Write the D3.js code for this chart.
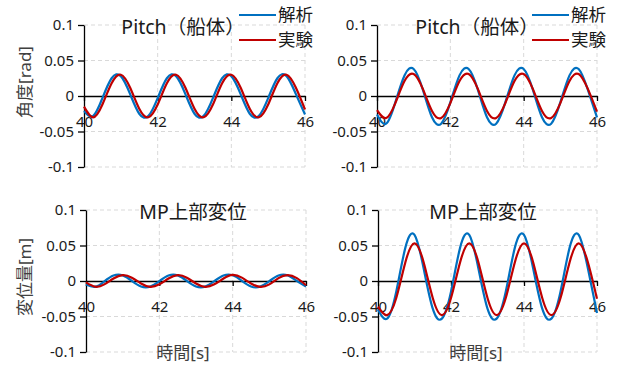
<!DOCTYPE html>
<html>
<head>
<meta charset="utf-8">
<script src="https://cdn.jsdelivr.net/npm/d3@7"></script>
<style>
  html, body { margin: 0; padding: 0; background: #fff; }
  svg { display: block; }
  text { font-family: "Noto Sans", "Noto Sans CJK JP", sans-serif; }
</style>
</head>
<body>
<svg id="chart" width="617" height="365"></svg>
<script>
// ---------- data ----------
const times = [40, 40.25, 40.5, 40.75, 41, 41.25, 41.5, 41.75, 42, 42.25, 42.5, 42.75,
               43, 43.25, 43.5, 43.75, 44, 44.25, 44.5, 44.75, 45, 45.25, 45.5, 45.75, 46];

const xTicks = [40, 42, 44, 46];
const xTickLabels = ["40", "42", "44", "46"];
const yTicks = [0.1, 0.05, 0, -0.05, -0.1];
const yTickLabels = ["0.1", "0.05", "0", "-0.05", "-0.1"];

const seriesNames = ["解析", "実験"];
const titles = ["Pitch（船体）", "Pitch（船体）", "MP上部変位", "MP上部変位"];
const yTitles = ["角度[rad]", "", "変位量[m]", ""];
const xTitle = "時間[s]";

// panel 1: Pitch, case 1
const pitch1Analysis = [-0.021, -0.028, -0.003, 0.025, 0.028, 0.003, -0.025, -0.028, -0.003, 0.025, 0.028, 0.003,
                        -0.025, -0.028, -0.003, 0.025, 0.028, 0.003, -0.025, -0.028, -0.003, 0.025, 0.028, 0.003, -0.026];
const pitch1Experiment = [-0.015, -0.030, -0.012, 0.018, 0.030, 0.012, -0.018, -0.030, -0.012, 0.018, 0.030, 0.012,
                          -0.018, -0.030, -0.012, 0.018, 0.030, 0.012, -0.018, -0.030, -0.012, 0.018, 0.030, 0.012, -0.019];
// panel 2: Pitch, case 2
const pitch2Analysis = [-0.026, -0.039, -0.009, 0.029, 0.038, 0.009, -0.030, -0.039, -0.009, 0.029, 0.038, 0.009,
                        -0.030, -0.039, -0.009, 0.029, 0.038, 0.009, -0.030, -0.039, -0.009, 0.029, 0.038, 0.009, -0.030];
const pitch2Experiment = [-0.020, -0.031, -0.010, 0.021, 0.031, 0.010, -0.021, -0.031, -0.010, 0.021, 0.031, 0.010,
                          -0.021, -0.031, -0.010, 0.021, 0.031, 0.010, -0.021, -0.031, -0.010, 0.021, 0.031, 0.010, -0.022];
// panel 3: MP displacement, case 1
const mp1Analysis = [-0.005, -0.0082, -0.0005, 0.0077, 0.0079, 0.0002, -0.0077, -0.0079, -0.0002, 0.0077, 0.0079, 0.0002,
                     -0.0077, -0.0079, -0.0002, 0.0077, 0.0080, 0.0003, -0.0077, -0.0079, -0.0002, 0.0077, 0.0079, 0.0002, -0.0078];
const mp1Experiment = [-0.002, -0.0080, -0.0048, 0.0035, 0.0082, 0.0047, -0.0035, -0.0082, -0.0047, 0.0035, 0.0082, 0.0047,
                       -0.0035, -0.0082, -0.0047, 0.0035, 0.0085, 0.0047, -0.0035, -0.0082, -0.0047, 0.0040, 0.0082, 0.0040, -0.0060];
// panel 4: MP displacement, case 2
const mp2Analysis = [-0.040, -0.053, -0.015, 0.047, 0.065, 0.018, -0.039, -0.053, -0.015, 0.047, 0.065, 0.018,
                     -0.039, -0.053, -0.015, 0.047, 0.065, 0.018, -0.039, -0.053, -0.015, 0.047, 0.065, 0.018, -0.045];
const mp2Experiment = [-0.036, -0.048, -0.024, 0.0265, 0.053, 0.0265, -0.024, -0.048, -0.024, 0.0265, 0.053, 0.0265,
                       -0.024, -0.048, -0.024, 0.0265, 0.053, 0.0265, -0.024, -0.048, -0.024, 0.0265, 0.053, 0.0265, -0.025];

const panelSeries = [
  [pitch1Analysis, pitch1Experiment],
  [pitch2Analysis, pitch2Experiment],
  [mp1Analysis, mp1Experiment],
  [mp2Analysis, mp2Experiment]
];

// ---------- layout ----------
const colors = ["#0070C0", "#C00000"];
const panels = [
  { x0: 84,  x1: 305, yTop: 25,  yBot: 167, titleX: 183, legend: true,  legendX: 239, yTitleY: 82,  xTitle: false },
  { x0: 377, x1: 597, yTop: 25,  yBot: 167, titleX: 477, legend: true,  legendX: 532, yTitleY: 0,   xTitle: false },
  { x0: 86,  x1: 306, yTop: 210, yBot: 352, titleX: 193, legend: false, legendX: 0,   yTitleY: 277, xTitle: true, xTitleX: 183 },
  { x0: 378, x1: 597, yTop: 210, yBot: 352, titleX: 483, legend: false, legendX: 0,   yTitleY: 0,   xTitle: true, xTitleX: 476 }
];

const svg = d3.select("#chart");

panels.forEach((p, pi) => {
  const x = d3.scaleLinear().domain([40, 46]).range([p.x0, p.x1]);
  const y = d3.scaleLinear().domain([-0.1, 0.1]).range([p.yBot, p.yTop]);
  const g = svg.append("g");

  // gridlines
  g.append("g").selectAll("line.h")
    .data(yTicks.filter(v => v !== 0))
    .join("line")
    .attr("x1", x(40)).attr("x2", x(46))
    .attr("y1", d => y(d)).attr("y2", d => y(d))
    .attr("stroke", "#d9d9d9").attr("stroke-width", 1).attr("stroke-dasharray", "4,3");
  g.append("g").selectAll("line.v")
    .data(xTicks.filter(v => v !== 40))
    .join("line")
    .attr("x1", d => x(d)).attr("x2", d => x(d))
    .attr("y1", y(0.1)).attr("y2", y(-0.1))
    .attr("stroke", "#d9d9d9").attr("stroke-width", 1).attr("stroke-dasharray", "4,3");

  // y axis
  const yAxis = d3.axisLeft(y).tickValues(yTicks)
    .tickFormat((d, i) => yTickLabels[i]).tickSize(6).tickSizeOuter(0).tickPadding(4);
  const ya = g.append("g").attr("transform", `translate(${x(40)},0)`).call(yAxis);
  ya.select(".domain").attr("stroke", "#000").attr("stroke-width", 1.3);
  ya.selectAll(".tick line").attr("stroke", "#000").attr("stroke-width", 1.3);
  ya.selectAll(".tick text").attr("fill", "#1a1a1a").style("font-size", "15px")
    .style("font-family", "'Noto Sans', sans-serif");

  // x axis at y = 0
  const xAxis = d3.axisBottom(x).tickValues(xTicks)
    .tickFormat((d, i) => xTickLabels[i]).tickSize(5).tickSizeOuter(0).tickPadding(15);
  const xa = g.append("g").attr("transform", `translate(0,${y(0)})`).call(xAxis);
  xa.select(".domain").attr("stroke", "#000").attr("stroke-width", 1.3);
  xa.selectAll(".tick line").attr("stroke", "#000").attr("stroke-width", 1.3);
  xa.selectAll(".tick text").attr("fill", "#1a1a1a").style("font-size", "15px")
    .style("font-family", "'Noto Sans', sans-serif");

  // series
  const line = d3.line()
    .x((d, i) => x(times[i]))
    .y(d => y(d))
    .curve(d3.curveNatural);
  panelSeries[pi].forEach((vals, si) => {
    g.append("path")
      .attr("d", line(vals))
      .attr("fill", "none")
      .attr("stroke", colors[si])
      .attr("stroke-width", 2.2)
      .attr("stroke-linejoin", "round");
  });

  // title
  g.append("text")
    .attr("x", p.titleX).attr("y", p.yTop + 9)
    .attr("text-anchor", "middle")
    .attr("fill", "#1a1a1a")
    .style("font-size", "19.5px")
    .text(titles[pi]);

  // y title
  if (yTitles[pi]) {
    g.append("text")
      .attr("transform", `translate(31,${p.yTitleY}) rotate(-90)`)
      .attr("text-anchor", "middle")
      .attr("fill", "#404040")
      .style("font-size", "17px")
      .text(yTitles[pi]);
  }

  // x title
  if (p.xTitle) {
    g.append("text")
      .attr("x", p.xTitleX).attr("y", 359)
      .attr("text-anchor", "middle")
      .attr("fill", "#404040")
      .style("font-size", "17px")
      .text(xTitle);
  }

  // legend
  if (p.legend) {
    seriesNames.forEach((name, si) => {
      const ly = 15 + si * 25;
      g.append("line")
        .attr("x1", p.legendX).attr("x2", p.legendX + 37)
        .attr("y1", ly).attr("y2", ly)
        .attr("stroke", colors[si]).attr("stroke-width", 2.2);
      g.append("text")
        .attr("x", p.legendX + 39).attr("y", ly + 6)
        .attr("fill", "#1a1a1a")
        .style("font-size", "17.5px")
        .text(name);
    });
  }
});
</script>
</body>
</html>
